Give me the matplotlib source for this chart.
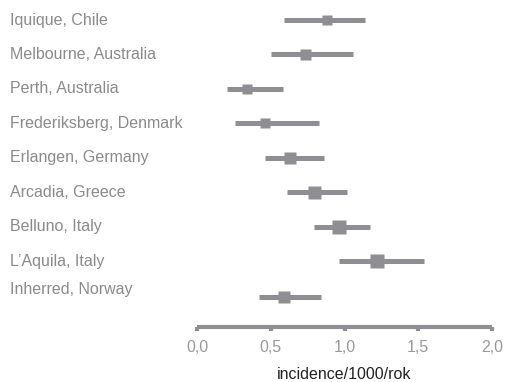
import matplotlib
matplotlib.use("Agg")
import matplotlib.pyplot as plt
from matplotlib.transforms import blended_transform_factory
from matplotlib.ticker import FuncFormatter

plt.rcParams['font.family'] = ['Liberation Sans', 'DejaVu Sans']

sites = ["Iquique, Chile", "Melbourne, Australia", "Perth, Australia",
         "Frederiksberg, Denmark", "Erlangen, Germany", "Arcadia, Greece",
         "Belluno, Italy", "L\u2019Aquila, Italy", "Inherred, Norway"]
estimate = [0.88, 0.73, 0.34, 0.46, 0.63, 0.79, 0.96, 1.22, 0.59]
lower = [0.59, 0.50, 0.20, 0.26, 0.46, 0.61, 0.79, 0.96, 0.42]
upper = [1.14, 1.06, 0.58, 0.83, 0.86, 1.02, 1.17, 1.54, 0.84]
weights = [10.5, 11, 9.5, 9.5, 12, 13, 14.5, 13.5, 11.5]
xticks = [0.0, 0.5, 1.0, 1.5, 2.0]

W, H = 507, 382
fig = plt.figure(figsize=(W / 100, H / 100), dpi=100)
ax = fig.add_axes([197 / W, 1 - 327 / H, (492 - 197) / W, 327 / H])

grey = '#8e8e93'
n = len(sites)
rows = list(range(n))
# last row sits a bit lower
ypos = [r if r < n - 1 else r + 0.03 for r in rows]
ax.set_ylim(8.9, -0.58)
ax.set_xlim(0, 2.0)

for y, lo, hi, est, w in zip(ypos, lower, upper, estimate, weights):
    ax.plot([lo, hi], [y, y], color=grey, lw=3.6, solid_capstyle='butt', zorder=2)
    ax.plot([est], [y], marker='s', ms=w * 0.72, color=grey, mec='none', zorder=3)

tr = blended_transform_factory(fig.transFigure, ax.transData)
label_y = [r if r < n - 1 else r - 0.2 for r in rows]
for y, s in zip(label_y, sites):
    ax.text(10 / W, y, s, transform=tr, ha='left', va='center',
            fontsize=11.5, color='#8a8a8a')

for sp in ['top', 'right', 'left']:
    ax.spines[sp].set_visible(False)
ax.spines['bottom'].set_linewidth(3)
ax.spines['bottom'].set_color(grey)
ax.spines['bottom'].set_capstyle('butt')
ax.set_yticks([])
ax.set_xticks(xticks)
ax.xaxis.set_major_formatter(FuncFormatter(lambda v, p: f"{v:.1f}".replace('.', ',')))
ax.tick_params(axis='x', direction='out', length=3, width=3, color=grey,
               labelcolor='#999999', labelsize=11.5, pad=6)
ax.set_xlabel('incidence/1000/rok', fontsize=11.5, color='#222222', labelpad=9)
ax.patch.set_visible(False)

fig.savefig('out.png', dpi=100)
